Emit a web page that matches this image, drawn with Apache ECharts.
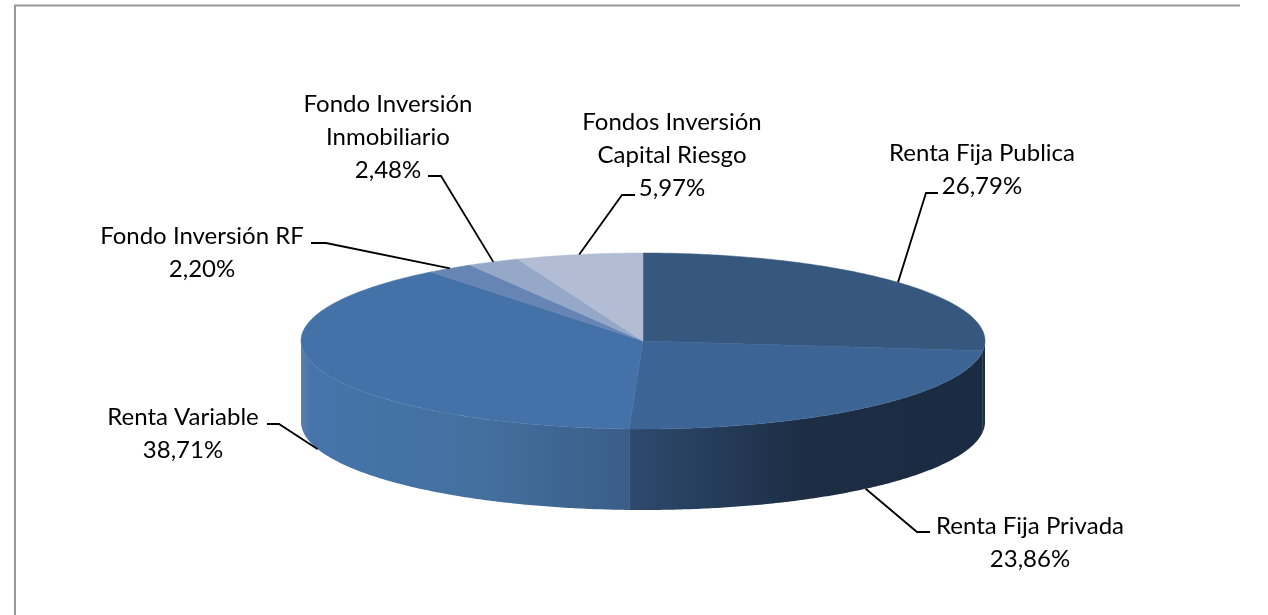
<!DOCTYPE html>
<html><head><meta charset="utf-8">
<style>html,body{margin:0;padding:0;background:#fff}#c{width:1268px;height:615px}</style>
<script src="https://cdn.jsdelivr.net/npm/echarts@6/dist/echarts.min.js"></script>
</head><body><div id="c"></div>
<script>
const categories = ['Renta Fija Publica','Renta Fija Privada','Renta Variable','Fondo Inversión RF','Fondo Inversión Inmobiliario','Fondos Inversión Capital Riesgo'];
const shares = [26.79,23.86,38.71,2.20,2.48,5.97];
const labelLines = [['Renta Fija Publica','26,79%'],['Renta Fija Privada','23,86%'],['Renta Variable','38,71%'],['Fondo Inversión RF','2,20%'],['Fondo Inversión','Inmobiliario','2,48%'],['Fondos Inversión','Capital Riesgo','5,97%']];
const topColors = ['#36587f','#3c6596','#4472a8','#6685b4','#95a8c8','#b2bdd3'];
// wall gradients, left to right
const sideStops = [
  [[0,'#1c2d44'],[1,'#1c2d44']],
  [[0,'#2e4a6e'],[0.5,'#1c2d44'],[1,'#1b2b41']],
  [[0,'#5c80ad'],[0.03,'#4674aa'],[0.55,'#44709f'],[1,'#3a5d88']],
  [[0,'#4674aa'],[1,'#4674aa']],[[0,'#4674aa'],[1,'#4674aa']],[[0,'#4674aa'],[1,'#4674aa']]
];
// label layout: text centre x, first line y, leader elbow, leader end near text
const labelLayout = [
  {x:982,y:153,elbow:[926,193],end:[938,193]},
  {x:1030,y:526,elbow:[917,532],end:[930,532]},
  {x:183,y:417,elbow:[279,424],end:[267,424]},
  {x:202,y:236,elbow:[326,243],end:[311,243]},
  {x:388,y:104,elbow:[441,176],end:[428,176]},
  {x:672,y:122,elbow:[622,195],end:[635,195]}
];
const PIE = {cx:643,cy:341,rx:342,ry:88,depth:81};
const fontFamily = 'Lato, sans-serif';
const fontSize = 24;
const lineH = 33;

const total = shares.reduce((a,b)=>a+b,0);
let acc = 0;
const sourceData = shares.map((v,i)=>{const s=acc; acc+=v; return {name:categories[i],value:[i,s,acc,v]};});
const toAngle = v => v/total*Math.PI*2;
const pt = (a,dy)=>[PIE.cx+PIE.rx*Math.sin(a), PIE.cy-PIE.ry*Math.cos(a)+(dy||0)];
function arc(a0,a1,dy){const n=Math.max(2,Math.ceil((a1-a0)/0.01));const p=[];for(let k=0;k<=n;k++)p.push(pt(a0+(a1-a0)*k/n,dy));return p;}

const renderSide = (params,api)=>{
  const i=api.value(0), a0=toAngle(api.value(1)), a1=toAngle(api.value(2));
  const from=Math.max(a0,Math.PI/2), to=Math.min(a1,Math.PI*1.5);
  if(to<=from) return {type:'group',children:[]};
  const upper=arc(from,to,0), lower=arc(from,to,PIE.depth).reverse();
  const stops=sideStops[i].map(s=>({offset:s[0],color:s[1]}));
  return {type:'polygon',z2:1,shape:{points:upper.concat(lower)},
    style:{fill:new echarts.graphic.LinearGradient(0,0,1,0,stops)}};
};
const renderTop = (params,api)=>{
  const i=api.value(0), a0=toAngle(api.value(1)), a1=toAngle(api.value(2));
  return {type:'polygon',z2:2,shape:{points:[[PIE.cx,PIE.cy]].concat(arc(a0,a1,0))},
    style:{fill:topColors[i],stroke:topColors[i],lineWidth:0.5}};
};
const renderLabel = (params,api)=>{
  const i=api.value(0), a0=toAngle(api.value(1)), a1=toAngle(api.value(2)), m=(a0+a1)/2;
  const front=Math.cos(m)<0;
  const start=pt(m, front?PIE.depth:0);
  const L=labelLayout[i];
  return {type:'group',children:[
    {type:'polyline',z2:3,shape:{points:[start,L.elbow,L.end]},style:{fill:null,stroke:'#000',lineWidth:1.8}},
    {type:'text',z2:4,style:{text:labelLines[i].join('\n'),x:L.x,y:L.y-lineH/2,align:'center',verticalAlign:'top',
      font:fontSize+'px '+fontFamily,lineHeight:lineH,fill:'#000'}}
  ]};
};
const chart=echarts.init(document.getElementById('c'),null,{renderer:'canvas'});
chart.setOption({
  animation:false,
  backgroundColor:'#fff',
  graphic:[{type:'polyline',shape:{points:[[15,615],[15,5.5],[1240,5.5]]},style:{fill:null,stroke:'#999',lineWidth:2}}],
  series:[
    {type:'custom',coordinateSystem:'none',renderItem:renderSide,data:sourceData,silent:true,z:1},
    {type:'custom',coordinateSystem:'none',renderItem:renderTop,data:sourceData,silent:true,z:2},
    {type:'custom',coordinateSystem:'none',renderItem:renderLabel,data:sourceData,silent:true,z:3}
  ]
});
</script></body></html>
